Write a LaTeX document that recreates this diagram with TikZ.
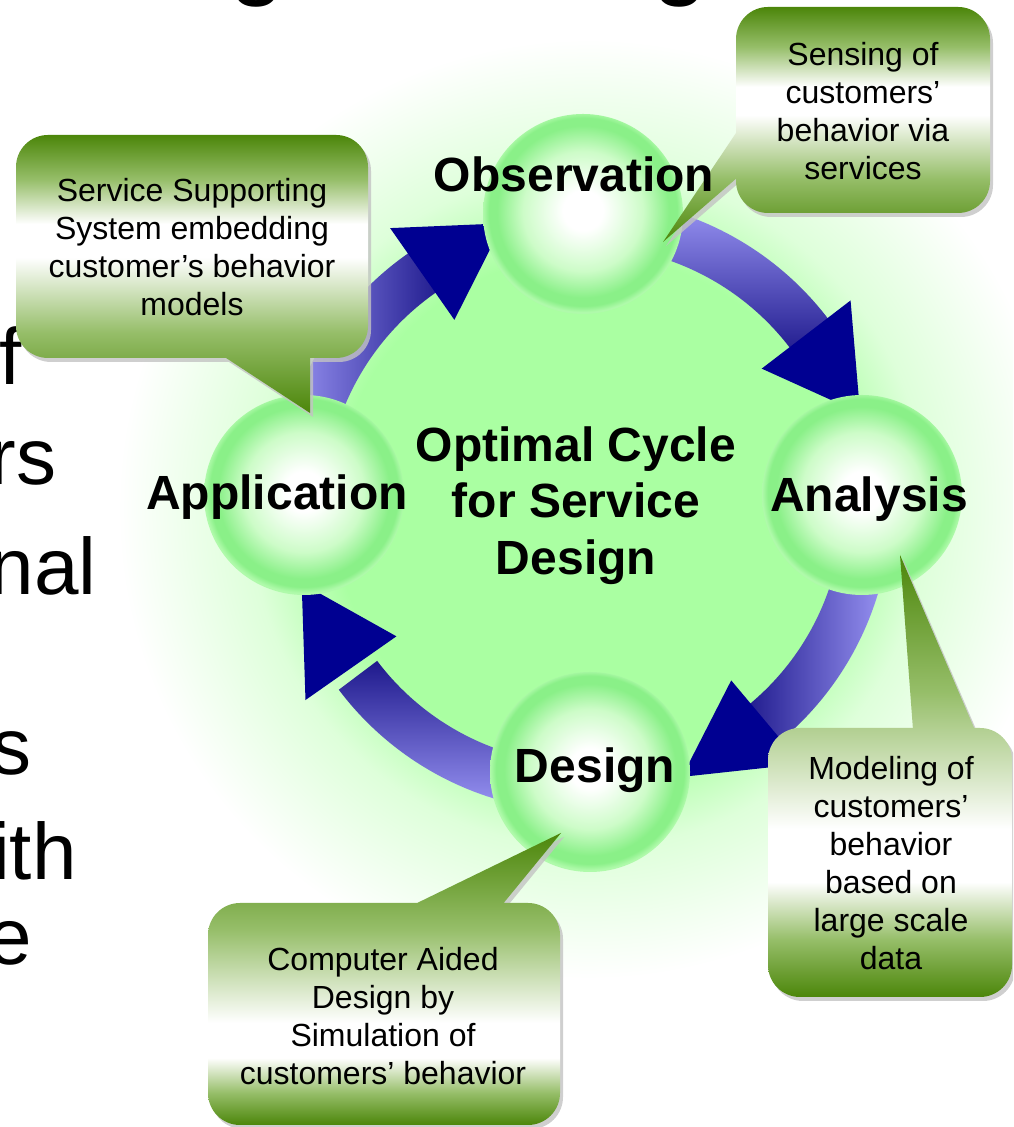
\documentclass[tikz,border=0pt]{standalone}
\usepackage{fontspec}
\setmainfont{Liberation Sans}
\usetikzlibrary{calc}
\definecolor{cg}{RGB}{76,134,10}
\definecolor{cm}{RGB}{150,190,105}
\definecolor{glowA}{RGB}{170,255,162}
\definecolor{glowB}{RGB}{222,255,218}
\definecolor{bubM}{RGB}{205,252,200}
\definecolor{bubE}{RGB}{138,240,136}
\definecolor{bubO}{RGB}{175,250,170}
\definecolor{arL}{RGB}{155,150,245}
\definecolor{arD}{RGB}{30,25,140}
\definecolor{navy}{RGB}{0,0,145}
\definecolor{shd}{RGB}{195,195,195}
\pgfdeclareradialshading{glow}{\pgfpoint{0bp}{0bp}}{color(0bp)=(glowA); color(13.5bp)=(glowA); color(18bp)=(glowB); color(25bp)=(white); color(50bp)=(white)}
\pgfdeclareradialshading{bubble}{\pgfpoint{0bp}{1bp}}{color(0bp)=(white); color(5bp)=(white); color(15bp)=(bubM); color(21.5bp)=(bubE); color(23.5bp)=(bubE); color(25bp)=(bubO); color(50bp)=(bubO)}
\pgfdeclareverticalshading{shS}{100bp}{color(0bp)=(cg); color(25bp)=(cg); color(39.5bp)=(cm); color(53bp)=(white); color(59bp)=(white); color(67bp)=(cm); color(75bp)=(cg); color(100bp)=(cg)}
\pgfdeclareverticalshading{shN}{100bp}{color(0bp)=(cg); color(25bp)=(cg); color(38.5bp)=(cm); color(52bp)=(white); color(58bp)=(white); color(66.5bp)=(cm); color(75bp)=(cg); color(100bp)=(cg)}
\pgfdeclareverticalshading{shM}{100bp}{color(0bp)=(cg); color(25bp)=(cg); color(31.5bp)=(cm); color(38bp)=(white); color(44bp)=(white); color(59.5bp)=(cm); color(75bp)=(cg); color(100bp)=(cg)}
\pgfdeclareverticalshading{shC}{100bp}{color(0bp)=(cg); color(25bp)=(cg); color(30.5bp)=(cm); color(36.5bp)=(white); color(42.5bp)=(white); color(58.5bp)=(cm); color(75bp)=(cg); color(100bp)=(cg)}
\def\calS{[rounded corners=16pt] (16,769) -- (368,769) -- (368,992) -- (16,992) -- cycle [sharp corners] (223,771) -- (310,714) -- (310,771) -- cycle}
\def\calN{[rounded corners=16pt] (736,914) -- (990,914) -- (990,1120) -- (736,1120) -- cycle [sharp corners] (738,997) -- (663,885) -- (738,950) -- cycle}
\def\calM{[rounded corners=16pt] (768,130) -- (1012,130) -- (1012,399) -- (768,399) -- cycle [sharp corners] (975,397) -- (900,572) -- (913,397) -- cycle}
\def\calC{[rounded corners=16pt] (208,2) -- (560,2) -- (560,224) -- (208,224) -- cycle [sharp corners] (502,222) -- (561,294) -- (413,222) -- cycle}
\begin{document}
\begin{tikzpicture}[x=0.5pt,y=0.5pt,
  lbl/.style={font=\fontsize{24}{29}\selectfont\bfseries, anchor=base, inner sep=0pt},
  ctxt/.style={font=\fontsize{16}{19}\selectfont, align=center, inner sep=0pt},
  big/.style={font=\fontsize{40}{48}\selectfont, anchor=base east, inner sep=0pt},
  cshadow/.style={fill=shd, fill opacity=0.8},
  ahead/.style={fill=navy},
  bub/.style={shading=bubble}]
\useasboundingbox (0,0) rectangle (1013,1127);
\clip (0,0) rectangle (1013,1127);
% background glow
\shade[shading=glow] (588,618) circle[radius=470];
% partial slide text
\node[big] (t1) at (22,742) {f};
\node[big] (t2) at (57,642) {rs};
\node[big] (t3) at (97,532) {nal};
\node[big] (t4) at (32,352) {s};
\node[big] (t5) at (77,247) {ith};
\node[big] (t6) at (32,162) {e};
\node[font=\fontsize{50}{60}\selectfont, anchor=base west, inner sep=0pt] (g1) at (229,1140) {g};
\node[font=\fontsize{50}{60}\selectfont, anchor=base west, inner sep=0pt] (g2) at (652,1140) {g};
% cycle arrows
\coordinate (C) at (584,622);
\shade[left color=arL, right color=arD] ($(C)+(168:259)$) arc[start angle=168, end angle=123, radius=259] -- ($(C)+(123:307)$) arc[start angle=123, end angle=168, radius=307] -- cycle;
\fill[ahead] ($(C)+(125:226)$) -- ($(C)+(106:293)$) -- ($(C)+(125:338)$) -- cycle;
\shade[top color=arL, bottom color=arD] ($(C)+(82:259)$) arc[start angle=82, end angle=35, radius=259] -- ($(C)+(35:307)$) arc[start angle=35, end angle=82, radius=307] -- cycle;
\fill[ahead] ($(C)+(37.5:224)$) -- ($(C)+(18.4:291)$) -- ($(C)+(37.5:336)$) -- cycle;
\shade[left color=arD, right color=arL] ($(C)+(-8:259)$) arc[start angle=-8, end angle=-52, radius=259] -- ($(C)+(-52:307)$) arc[start angle=-52, end angle=-8, radius=307] -- cycle;
\fill[ahead] ($(C)+(-50:229)$) -- ($(C)+(-70.2:289)$) -- ($(C)+(-50:338)$) -- cycle;
\shade[top color=arD, bottom color=arL] ($(C)+(-95:259)$) arc[start angle=-95, end angle=-143, radius=259] -- ($(C)+(-143:307)$) arc[start angle=-143, end angle=-95, radius=307] -- cycle;
\fill[ahead] ($(C)+(-145:229)$) -- ($(C)+(-164.5:293)$) -- ($(C)+(-145:340)$) -- cycle;
% bubbles
\shade[bub] (583,913) circle[radius=100];
\shade[bub] (862,632) circle[radius=100];
\shade[bub] (590,355) circle[radius=100];
\shade[bub] (304,632) circle[radius=100];
% callouts
\fill[cshadow, shift={(3,-4)}] \calS;
\shade[shading=shS] \calS;
\fill[cshadow, shift={(3,-4)}] \calN;
\shade[shading=shN] \calN;
\fill[cshadow, shift={(3,-4)}] \calM;
\shade[shading=shM] \calM;
\fill[cshadow, shift={(3,-4)}] \calC;
\shade[shading=shC] \calC;
\node[ctxt] (nS) at (192,880) {Service Supporting\\System embedding\\customer’s behavior\\models};
\node[ctxt] (nN) at (863,1016) {Sensing of\\customers’\\behavior via\\services};
\node[ctxt] (nM) at (891,264) {Modeling of\\customers’\\behavior\\based on\\large scale\\data};
\node[ctxt] (nC) at (383,111) {Computer Aided\\Design by\\Simulation of\\customers’ behavior};
% labels
\node[lbl] (obs) at (574,935) {Observation};
\node[lbl] (ana) at (869,615) {Analysis};
\node[lbl] (des) at (595,344) {Design};
\node[lbl] (app) at (277,617) {Application};
\node[lbl] (c1) at (576,665) {Optimal Cycle};
\node[lbl] (c2) at (576,609) {for Service};
\node[lbl] (c3) at (576,552) {Design};
\end{tikzpicture}
\end{document}
